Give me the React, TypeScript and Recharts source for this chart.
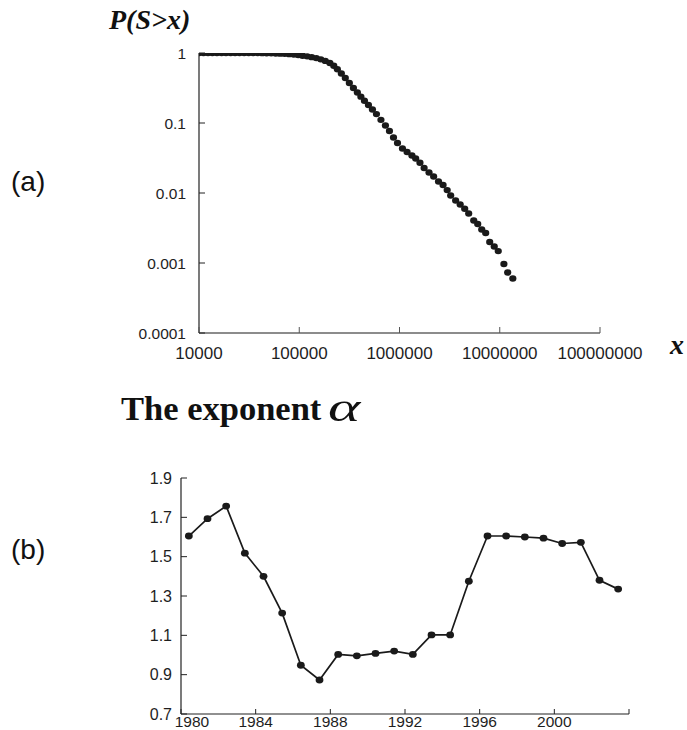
import React from 'react';
import { ScatterChart, Scatter, LineChart, Line, XAxis, YAxis } from 'recharts';

// ---- Panel (a): complementary cumulative distribution ----
const sizeValues = [
  10000, 11100, 12300, 13600, 15100, 16800, 18600, 20700, 22900, 25400,
  28200, 31300, 34700, 38500, 42700, 47300, 52500, 58200, 64600, 71600,
  79400, 88100, 97700, 108000, 120000, 133000, 148000, 164000, 182000, 202000,
  221000, 240000, 263000, 288000, 316000, 347000, 380000, 412000, 447000, 490000,
  537000, 589000, 653000, 724000, 794000, 871000, 955000, 1070000, 1190000, 1330000,
  1450000, 1600000, 1760000, 1970000, 2190000, 2450000, 2720000, 2990000, 3240000, 3630000,
  4030000, 4470000, 4900000, 5500000, 6030000, 6610000, 7240000, 7940000, 8810000, 9660000,
  11000000, 12000000, 13500000,
];
const probValues = [
  1, 1, 1, 1, 1, 1, 1, 1, 1, 0.999,
  0.999, 0.999, 0.998, 0.997, 0.995, 0.992, 0.988, 0.984, 0.979, 0.972,
  0.963, 0.95, 0.935, 0.915, 0.895, 0.873, 0.846, 0.812, 0.771, 0.72,
  0.656, 0.587, 0.51, 0.44, 0.373, 0.316, 0.273, 0.238, 0.208, 0.181,
  0.156, 0.134, 0.111, 0.0921, 0.0769, 0.0621, 0.0518, 0.0432, 0.0385, 0.0343,
  0.0311, 0.0271, 0.0228, 0.0196, 0.0172, 0.0146, 0.013, 0.011, 0.0092, 0.0078,
  0.00685, 0.00595, 0.0051, 0.00405, 0.0036, 0.00301, 0.00268, 0.002, 0.00172, 0.00148,
  0.00097, 0.00073, 0.0006,
];
const sizeTicks = [10000, 100000, 1000000, 10000000, 100000000];
const probTicks = [0.0001, 0.001, 0.01, 0.1, 1];

// ---- Panel (b): exponent alpha by year ----
const years = [
  1980, 1981, 1982, 1983, 1984, 1985, 1986, 1987, 1988, 1989, 1990, 1991,
  1992, 1993, 1994, 1995, 1996, 1997, 1998, 1999, 2000, 2001, 2002, 2003,
];
const alphaValues = [
  1.605, 1.693, 1.757, 1.518, 1.4, 1.213, 0.948, 0.873, 1.003, 0.996, 1.008, 1.02,
  1.003, 1.102, 1.102, 1.375, 1.605, 1.605, 1.6, 1.594, 1.567, 1.573, 1.38, 1.335,
];
const yearTicks = [1980, 1984, 1988, 1992, 1996, 2000, 2004];
const alphaTicks = [0.7, 0.9, 1.1, 1.3, 1.5, 1.7, 1.9];

const YEAR_POINT_OFFSET = 0.42; // points sit inside each year slot

const ccdfData = sizeValues.map((s, i) => ({ s, p: probValues[i] }));
const alphaData = years.map((y, i) => ({ t: y + YEAR_POINT_OFFSET, a: alphaValues[i] }));

const SANS = '"Liberation Sans", Arial, sans-serif';
const SERIF = '"Liberation Serif", "Times New Roman", serif';

const makeYTick = (margin: number, len: number, color: string, fontSize: number) => (props: any) => {
  const { x, y, payload } = props;
  const ax = x + margin;
  return (
    <g>
      <line x1={ax} y1={y} x2={ax + len} y2={y} stroke={color} strokeWidth={1} />
      <text x={x} y={y} textAnchor="end" dominantBaseline="central" fontFamily={SANS} fontSize={fontSize} fill="#1e1e1e">
        {String(payload.value)}
      </text>
    </g>
  );
};

const makeXTick = (
  margin: number,
  len: number,
  color: string,
  fontSize: number,
  baselineOffset: number,
  hideLast: boolean,
  firstShift: number,
  lastValue: number,
) => (props: any) => {
  const { x, y, payload, index } = props;
  const ay = y - margin;
  const showLabel = !(hideLast && payload.value === lastValue);
  return (
    <g>
      <line x1={x} y1={ay} x2={x} y2={ay - len} stroke={color} strokeWidth={1} />
      {showLabel && (
        <text x={x + (index === 0 ? firstShift : 0)} y={y + baselineOffset} textAnchor="middle" fontFamily={SANS} fontSize={fontSize} fill="#1e1e1e">
          {String(payload.value)}
        </text>
      )}
    </g>
  );
};

const dotShape = (props: any) => {
  const { cx, cy } = props;
  return <ellipse cx={cx} cy={cy} rx={3.6} ry={3.2} fill="#1a1a1a" />;
};

const lineDot = (props: any) => {
  const { cx, cy, index } = props;
  return <ellipse key={index} cx={cx} cy={cy} rx={3.9} ry={3.4} fill="#1a1a1a" />;
};

export default function App() {
  return (
    <div style={{ position: 'absolute', left: 0, top: 0, width: 687, height: 730, background: '#fff', overflow: 'hidden' }}>
      {/* Panel (a) */}
      <div style={{ position: 'absolute', left: 0, top: 0 }}>
        <ScatterChart width={687} height={365} margin={{ top: 53, right: 87, bottom: 0, left: 0 }}>
          <XAxis
            type="number"
            dataKey="s"
            scale="log"
            domain={[10000, 100000000]}
            ticks={sizeTicks}
            allowDataOverflow
            height={32}
            tickSize={0}
            tickMargin={0}
            axisLine={{ stroke: '#8c8c8c', strokeWidth: 2 }}
            tickLine={false}
            tick={makeXTick(0, 6, '#555', 17, 26, false, 0, 0)}
            interval={0}
          />
          <YAxis
            type="number"
            dataKey="p"
            scale="log"
            domain={[0.0001, 1]}
            ticks={probTicks}
            allowDataOverflow
            width={199}
            tickSize={0}
            tickMargin={13}
            axisLine={{ stroke: '#222', strokeWidth: 1.2 }}
            tickLine={false}
            tick={makeYTick(13, 6, '#222', 15.5)}
            interval={0}
          />
          <Scatter data={ccdfData} shape={dotShape} isAnimationActive={false} />
        </ScatterChart>
      </div>

      {/* Panel (b) */}
      <div style={{ position: 'absolute', left: 0, top: 370 }}>
        <LineChart width={687} height={360} data={alphaData} margin={{ top: 108, right: 58, bottom: 0, left: 0 }}>
          <XAxis
            type="number"
            dataKey="t"
            domain={[1980, 2004]}
            ticks={yearTicks}
            allowDataOverflow
            height={16}
            tickSize={0}
            tickMargin={0}
            axisLine={{ stroke: '#222', strokeWidth: 1.2 }}
            tickLine={false}
            tick={makeXTick(0, 5, '#222', 15.5, 12.5, true, 11, 2004)}
            interval={0}
          />
          <YAxis
            type="number"
            dataKey="a"
            domain={[0.7, 1.9]}
            ticks={alphaTicks}
            allowDataOverflow
            width={181}
            tickSize={0}
            tickMargin={9}
            axisLine={{ stroke: '#222', strokeWidth: 1.2 }}
            tickLine={false}
            tick={makeYTick(9, 6, '#222', 16)}
            interval={0}
          />
          <Line
            type="linear"
            dataKey="a"
            stroke="#1a1a1a"
            strokeWidth={1.7}
            dot={lineDot}
            activeDot={false}
            isAnimationActive={false}
          />
        </LineChart>
      </div>

      {/* Labels */}
      <div style={{ position: 'absolute', left: 109, top: 4, fontFamily: SERIF, fontWeight: 'bold', fontStyle: 'italic', fontSize: 28, lineHeight: 1.15, color: '#111', whiteSpace: 'nowrap' }}>
        P(S&gt;x)
      </div>
      <div style={{ position: 'absolute', left: 670, top: 329, fontFamily: SERIF, fontWeight: 'bold', fontStyle: 'italic', fontSize: 28, lineHeight: 1.15, color: '#111' }}>
        x
      </div>
      <div style={{ position: 'absolute', left: 11, top: 166, fontFamily: SANS, fontSize: 28, lineHeight: 1.15, color: '#111' }}>
        (a)
      </div>
      <div style={{ position: 'absolute', left: 11, top: 534, fontFamily: SANS, fontSize: 28, lineHeight: 1.15, color: '#111' }}>
        (b)
      </div>
      <div style={{ position: 'absolute', left: 121, top: 389, fontFamily: SERIF, fontWeight: 'bold', fontSize: 34.5, lineHeight: 1.15, color: '#111', whiteSpace: 'nowrap' }}>
        The exponent
      </div>
      <div style={{ position: 'absolute', left: 328, top: 384, fontFamily: SERIF, fontStyle: 'italic', fontSize: 41, lineHeight: 1.15, color: '#111', transform: 'scaleX(1.5)', transformOrigin: 'left center' }}>
        α
      </div>
    </div>
  );
}
